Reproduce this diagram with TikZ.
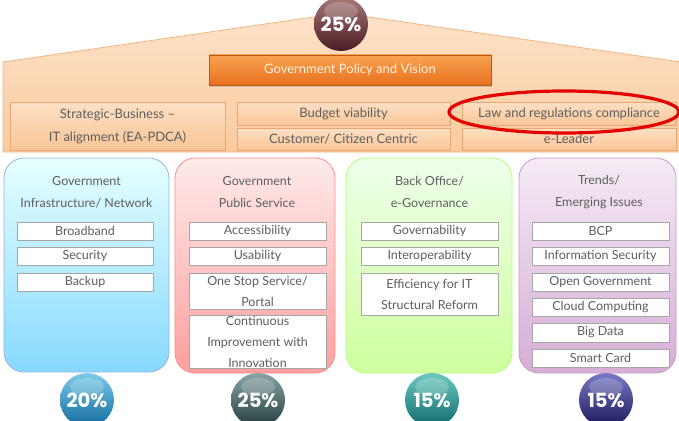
\documentclass[tikz,border=0pt]{standalone}
\usepackage{fontspec}
\setmainfont{Lato}
\newfontfamily\pctfont{Poppins}
\usetikzlibrary{shadows}

\definecolor{txt}{HTML}{5E5E5E}
\definecolor{roofTop}{HTML}{FDE2C8}
\definecolor{roofBot}{HTML}{FACB9E}
\definecolor{roofLine}{HTML}{F2B583}
\definecolor{barTop}{HTML}{FDE0C4}
\definecolor{barBot}{HTML}{F8C596}
\definecolor{barLine}{HTML}{E7A774}
\definecolor{polTop}{HTML}{F9A352}
\definecolor{polBot}{HTML}{E8701C}
\definecolor{brownTop}{HTML}{A87878}
\definecolor{brownBot}{HTML}{4A1C22}
\definecolor{blueTop}{HTML}{7CCBEA}
\definecolor{blueBot}{HTML}{126A9C}
\definecolor{slateTop}{HTML}{88A4A4}
\definecolor{slateBot}{HTML}{243E40}
\definecolor{tealTop}{HTML}{6CC8C0}
\definecolor{tealBot}{HTML}{106C6C}
\definecolor{navyTop}{HTML}{7878C4}
\definecolor{navyBot}{HTML}{1C1A5C}

\tikzset{
  roofbar/.style={draw=barLine, line width=0.6pt, top color=barTop, bottom color=barBot,
    text=txt, inner sep=0pt, align=center, font=\fontsize{13}{23}\selectfont,
    drop shadow={shadow xshift=1pt, shadow yshift=-1pt, opacity=0.25}},
  column/.style={rounded corners=20pt, line width=0.8pt, inner sep=0pt},
  coltitle/.style={text=txt, align=center, font=\fontsize{12.5}{22}\selectfont},
  item/.style={draw=black!35, fill=white, line width=0.5pt, inner sep=0pt,
    text=txt, align=center, font=\fontsize{12.5}{21}\selectfont},
  pct/.style={circle, minimum size=54pt, inner sep=0pt, text=white,
    font=\pctfont\bfseries\fontsize{19.5}{20}\selectfont},
  gloss/.style={fill=white, opacity=0.2}
}

\begin{document}
\begin{tikzpicture}[x=1pt,y=-1pt]
\useasboundingbox (0,0) rectangle (679,420);

% roof
\path[draw=roofLine, line width=0.8pt, top color=roofTop, bottom color=roofBot]
  (3,62) -- (341,13) -- (681,62) -- (681,152) -- (3,152) -- cycle;

% policy banner
\node[draw=polBot!80!black, line width=0.4pt, top color=polTop, bottom color=polBot,
  minimum width=282pt, minimum height=30pt, inner sep=0pt, text=white!90!orange,
  font=\fontsize{13}{14}\selectfont,
  drop shadow={shadow xshift=1pt, shadow yshift=-1.5pt, opacity=0.3}]
  (policy) at (350,70) {Government Policy and Vision};

% criteria bars
\node[roofbar, minimum width=215pt, minimum height=48pt] (strategic) at (117.5,126)
  {Strategic-Business --\\IT alignment (EA-PDCA)};
\node[roofbar, minimum width=213pt, minimum height=23pt] (budget) at (343.5,113.5)
  {Budget viability};
\node[roofbar, minimum width=213pt, minimum height=22pt] (customer) at (343.5,139)
  {Customer/ Citizen Centric};
\node[roofbar, minimum width=214pt, minimum height=23pt] (law) at (569,113.5)
  {Law and regulations compliance};
\node[roofbar, minimum width=214pt, minimum height=22pt] (leader) at (569,139)
  {e-Leader};

% highlight around the compliance bar
\draw[red!90!black, line width=3.2pt] (564,112) ellipse [x radius=115pt, y radius=21pt];

% pillars
\node[column, draw=cyan!45!blue!40, top color=cyan!10!white, bottom color=cyan!38!white!85!blue,
  minimum width=165pt, minimum height=214pt] (infra) at (86.5,265) {};
\node[column, draw=red!45, top color=red!8!white, bottom color=red!38!white,
  minimum width=160pt, minimum height=215pt] (public) at (255,265.5) {};
\node[column, draw=green!55!yellow!55, top color=yellow!18!green!8!white, bottom color=yellow!50!green!38!white,
  minimum width=166pt, minimum height=215pt] (back) at (429,265.5) {};
\node[column, draw=violet!40, top color=violet!8!white, bottom color=violet!32!white,
  minimum width=157pt, minimum height=215pt] (trends) at (597.5,265.5) {};

% pillar titles
\node[coltitle] (infraT) at (86.5,192) {Government\\Infrastructure/ Network};
\node[coltitle] (publicT) at (257,192) {Government\\Public Service};
\node[coltitle] (backT) at (429.5,192) {Back Office/\\e-Governance};
\node[coltitle] (trendsT) at (599,192) {Trends/\\Emerging Issues};

% infrastructure items
\node[item, minimum width=136pt, minimum height=18pt] (i1) at (85,231) {Broadband};
\node[item, minimum width=136pt, minimum height=18pt] (i2) at (85,256) {Security};
\node[item, minimum width=136pt, minimum height=18pt] (i3) at (85,282) {Backup};

% public service items
\node[item, minimum width=137pt, minimum height=18pt] (p1) at (257.5,231) {Accessibility};
\node[item, minimum width=137pt, minimum height=18pt] (p2) at (257.5,256) {Usability};
\node[item, minimum width=137pt, minimum height=36pt] (p3) at (257.5,291) {One Stop Service/\\Portal};
\node[item, minimum width=137pt, minimum height=53pt] (p4) at (257.5,341.5) {Continuous\\Improvement with\\Innovation};

% back office items
\node[item, minimum width=137pt, minimum height=18pt] (b1) at (429.5,231) {Governability};
\node[item, minimum width=137pt, minimum height=18pt] (b2) at (429.5,256) {Interoperability};
\node[item, minimum width=137pt, minimum height=42pt] (b3) at (429.5,294) {Efficiency for IT\\Structural Reform};

% trend items
\node[item, minimum width=137pt, minimum height=18pt] (t1) at (600.5,231) {BCP};
\node[item, minimum width=137pt, minimum height=18pt] (t2) at (600.5,256) {Information Security};
\node[item, minimum width=137pt, minimum height=18pt] (t3) at (600.5,282) {Open Government};
\node[item, minimum width=137pt, minimum height=18pt] (t4) at (600.5,307) {Cloud Computing};
\node[item, minimum width=137pt, minimum height=19pt] (t5) at (600.5,332.5) {Big Data};
\node[item, minimum width=137pt, minimum height=18pt] (t6) at (600.5,358) {Smart Card};

% weight badges
\node[pct, top color=brownTop, bottom color=brownBot] (wPolicy) at (341,24) {};
\node[pct, top color=blueTop, bottom color=blueBot] (wInfra) at (87,400) {};
\node[pct, top color=slateTop, bottom color=slateBot] (wPublic) at (258,400) {};
\node[pct, top color=tealTop, bottom color=tealBot] (wBack) at (432,400) {};
\node[pct, top color=navyTop, bottom color=navyBot] (wTrends) at (606,400) {};
\foreach \b in {wPolicy,wInfra,wPublic,wBack,wTrends}
  \fill[gloss] ([yshift=13pt]\b.center) ellipse [x radius=17pt, y radius=9pt];
\node[pct] at (wPolicy) {25\%};
\node[pct] at (wInfra) {20\%};
\node[pct] at (wPublic) {25\%};
\node[pct] at (wBack) {15\%};
\node[pct] at (wTrends) {15\%};
\end{tikzpicture}
\end{document}
